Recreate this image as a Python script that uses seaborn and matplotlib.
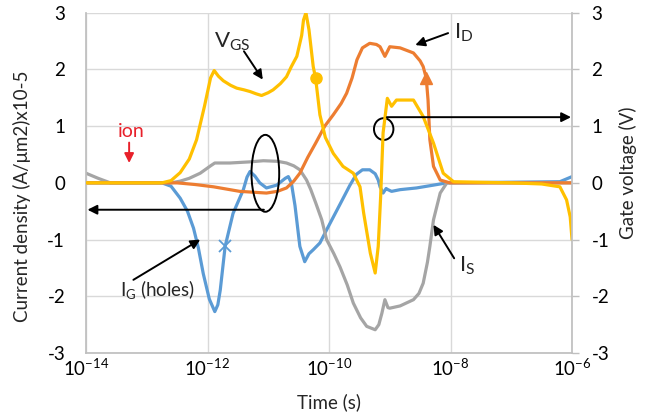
import numpy as np
import matplotlib
matplotlib.use("Agg")
import matplotlib.pyplot as plt
from matplotlib.patches import Ellipse
import seaborn as sns

# ── Data (time stored as log10 of seconds) ─────────────────────────────────────
vgs_log_t = [-14, -12.75, -12.6, -12.45, -12.3, -12.18, -12.05, -11.95, -11.89, -11.82,
             -11.74, -11.62, -11.52, -11.40, -11.30, -11.20, -11.11, -11.00, -10.92, -10.80,
             -10.70, -10.62, -10.53, -10.45, -10.42, -10.38, -10.33, -10.26, -10.22, -10.15,
             -10.06, -9.93, -9.77, -9.60, -9.49, -9.43, -9.32, -9.24, -9.19, -9.15,
             -9.11, -9.04, -8.97, -8.89, -8.61, -8.45, -8.28, -8.12, -7.95, -7.0,
             -6.5, -6.2, -6.09, -6.03, -6.0]
vgs = [0, 0, 0.04, 0.18, 0.42, 0.76, 1.35, 1.85, 1.98, 1.88,
       1.80, 1.72, 1.67, 1.64, 1.61, 1.57, 1.54, 1.59, 1.64, 1.75,
       1.87, 2.05, 2.23, 2.60, 2.87, 3.00, 2.70, 2.05, 1.84, 1.20,
       0.80, 0.52, 0.29, 0.17, -0.07, -0.53, -1.24, -1.59, -1.12, -0.24,
       0.88, 1.49, 1.35, 1.46, 1.46, 1.17, 0.70, 0.17, 0.02, 0.0,
       -0.02, -0.07, -0.30, -0.60, -1.0]

id_log_t = [-14, -12.5, -12.2, -11.90, -11.47, -11.03, -10.85, -10.70, -10.58, -10.48,
            -10.35, -10.22, -10.07, -9.93, -9.80, -9.71, -9.62, -9.54, -9.45, -9.33,
            -9.22, -9.16, -9.08, -9.00, -8.83, -8.61, -8.50, -8.45, -8.40, -8.37,
            -8.34, -8.28, -8.17, -8.01, -6.0]
i_d = [0, 0, -0.03, -0.07, -0.15, -0.18, -0.15, -0.09, 0.03, 0.17,
       0.45, 0.70, 1.00, 1.20, 1.40, 1.58, 1.85, 2.17, 2.38, 2.46,
       2.44, 2.40, 2.23, 2.40, 2.38, 2.29, 2.15, 2.05, 1.85, 1.46,
       0.76, 0.29, 0.05, 0, 0]

is_log_t = [-14.0, -13.8, -13.6, -12.6, -12.45, -12.3, -12.12, -11.95, -11.88, -11.63,
            -11.30, -11.08, -10.85, -10.70, -10.58, -10.48, -10.37, -10.30, -10.22, -10.12,
            -10.04, -9.92, -9.82, -9.70, -9.60, -9.48, -9.38, -9.24, -9.18, -9.13,
            -9.08, -9.03, -9.00, -8.83, -8.61, -8.52, -8.45, -8.38, -8.34, -8.28,
            -8.17, -8.06, -6.0]
i_s = [0.17, 0.08, 0.0, 0.0, 0.03, 0.08, 0.17, 0.30, 0.35, 0.35,
       0.37, 0.39, 0.38, 0.35, 0.30, 0.23, 0.05, -0.12, -0.35, -0.65,
       -1.00, -1.25, -1.48, -1.80, -2.12, -2.38, -2.53, -2.59, -2.50, -2.30,
       -2.06, -2.20, -2.21, -2.17, -2.06, -1.95, -1.77, -1.40, -1.12, -0.65,
       -0.18, 0.0, 0.0]

ig_log_t = [-14, -12.75, -12.60, -12.45, -12.33, -12.23, -12.15, -12.07, -11.97, -11.88,
            -11.83, -11.79, -11.71, -11.58, -11.41, -11.35, -11.30, -11.22, -11.14, -11.03,
            -10.86, -10.72, -10.67, -10.62, -10.56, -10.48, -10.40, -10.33, -10.26, -10.15,
            -10.04, -9.82, -9.66, -9.55, -9.45, -9.33, -9.24, -9.19, -9.16, -9.11,
            -9.06, -9.03, -8.97, -8.83, -8.56, -8.28, -8.06, -6.2, -6.0]
i_g = [0, 0, -0.06, -0.27, -0.50, -0.80, -1.15, -1.60, -2.05, -2.27,
       -2.15, -1.89, -1.12, -0.54, -0.12, 0.10, 0.20, 0.12, 0.0, -0.09,
       -0.04, 0.08, 0.11, 0.0, -0.40, -1.12, -1.39, -1.25, -1.18, -1.06,
       -0.83, -0.38, -0.05, 0.15, 0.23, 0.23, 0.16, 0.05, -0.07, -0.18,
       -0.10, -0.12, -0.15, -0.12, -0.09, -0.04, 0.0, 0.02, 0.11]

# single marker on each curve (index into the series above)
VGS_MARK, ID_MARK, IG_MARK = 28, 28, 12

x_ticks = [1e-14, 1e-12, 1e-10, 1e-8, 1e-6]
x_tick_labels = [r"$\mathregular{10^{-14}}$", r"$\mathregular{10^{-12}}$",
                 r"$\mathregular{10^{-10}}$", r"$\mathregular{10^{-8}}$",
                 r"$\mathregular{10^{-6}}$"]
y_ticks = [-3, -2, -1, 0, 1, 2, 3]
y_tick_labels = ["-3", "-2", "-1", "0", "1", "2", "3"]

# ── Style ──────────────────────────────────────────────────────────────────────
COLORS = {
    "vgs":  "#FFC000",
    "id":   "#ED7D31",
    "is":   "#A5A5A5",
    "ig":   "#5B9BD5",
    "grid": "#D9D9D9",
    "axis": "#BFBFBF",
}

sns.set_theme(style="white")
plt.rcParams.update({
    "font.family": ["Lato", "DejaVu Sans"],
    "mathtext.fontset": "custom",
    "mathtext.rm": "Lato",
    "mathtext.it": "Lato:italic",
    "mathtext.bf": "Lato:bold",
    "axes.unicode_minus": False,
})

fig = plt.figure(figsize=(6.53, 4.15), dpi=100)
ax = fig.add_axes([0.1317, 0.1494, 0.7443, 0.8200])
ax2 = ax.twinx()

t_vgs = 10.0 ** np.array(vgs_log_t)
t_id = 10.0 ** np.array(id_log_t)
t_is = 10.0 ** np.array(is_log_t)
t_ig = 10.0 ** np.array(ig_log_t)

LW = 2.3
sns.lineplot(x=t_ig, y=i_g, ax=ax, color=COLORS["ig"], lw=LW, sort=False, estimator=None)
sns.lineplot(x=t_is, y=i_s, ax=ax, color=COLORS["is"], lw=LW, sort=False, estimator=None)
sns.lineplot(x=t_id, y=i_d, ax=ax, color=COLORS["id"], lw=LW, sort=False, estimator=None)
sns.lineplot(x=t_vgs, y=vgs, ax=ax2, color=COLORS["vgs"], lw=LW, sort=False, estimator=None)

# markers
ax.plot(t_ig[IG_MARK], i_g[IG_MARK], marker="x", color=COLORS["ig"], ms=8, mew=1.3)
ax.plot(t_id[ID_MARK], i_d[ID_MARK], marker="^", color=COLORS["id"], ms=8)
ax2.plot(t_vgs[VGS_MARK], vgs[VGS_MARK], marker="o", color=COLORS["vgs"], ms=8)

for a in (ax, ax2):
    a.set_xscale("log")
    a.set_xlim(1e-14, 1e-6)
    a.set_ylim(-3, 3)
    a.set_yticks(y_ticks)
    a.set_yticklabels(y_tick_labels)
    for s in a.spines.values():
        s.set_visible(False)

ax.set_xticks(x_ticks)
ax.set_xticklabels(x_tick_labels)
ax.xaxis.set_minor_locator(matplotlib.ticker.NullLocator())
ax.grid(True, color=COLORS["grid"], lw=1)
ax.spines["left"].set_visible(True)
ax.spines["bottom"].set_visible(True)
ax.spines["left"].set_color(COLORS["axis"])
ax.spines["bottom"].set_color(COLORS["axis"])
ax2.spines["right"].set_visible(True)
ax2.spines["right"].set_color(COLORS["axis"])

ax.tick_params(axis="y", length=0, pad=15, labelsize=13.5, colors="#000000")
ax.tick_params(axis="x", length=0, pad=3, labelsize=13.5, colors="#000000")
ax2.tick_params(axis="y", length=5, width=1, color=COLORS["axis"], pad=9,
                labelsize=13.5, labelcolor="#000000", direction="out")

ax.set_xlabel("Time (s)", fontsize=13.5)
ax.xaxis.set_label_coords(0.5, -0.118)
ax.set_ylabel("Current density (A/\u03bcm2)x10-5", fontsize=13.5)
ax.yaxis.set_label_coords(-0.113, 0.46)
ax2.set_ylabel("Gate voltage (V)", fontsize=13.5)
ax2.yaxis.set_label_coords(1.097, 0.53)

# ── Annotations ───────────────────────────────────────────────────────────────
arrow = dict(arrowstyle="-|>", color="black", lw=1.4, mutation_scale=14,
             shrinkA=0, shrinkB=0)

ax2.text(10 ** -11.6, 2.49, r"V$_{\mathregular{GS}}$", fontsize=16, ha="center", va="center")
ax2.annotate("", xy=(10 ** -11.09, 1.82), xytext=(10 ** -11.40, 2.32), arrowprops=arrow)

ax2.text(10 ** -13.25, 0.91, "ion", fontsize=14, color="#E8202A", ha="center", va="center")
ax2.annotate("", xy=(10 ** -13.29, 0.35), xytext=(10 ** -13.29, 0.71),
             arrowprops=dict(arrow, color="#E8202A"))

ax2.text(10 ** -7.78, 2.65, r"I$_{\mathregular{D}}$", fontsize=16, ha="center", va="center")
ax2.annotate("", xy=(10 ** -8.58, 2.43), xytext=(10 ** -8.04, 2.64), arrowprops=arrow)

ax2.text(10 ** -7.72, -1.46, r"I$_{\mathregular{S}}$", fontsize=16, ha="center", va="center")
ax2.annotate("", xy=(10 ** -8.28, -0.74), xytext=(10 ** -7.94, -1.33), arrowprops=arrow)

ax2.text(10 ** -12.82, -1.88, r"I$_{\mathregular{G}}$ (holes)", fontsize=13.5,
         ha="center", va="center")
ax2.annotate("", xy=(10 ** -12.12, -1.0), xytext=(10 ** -13.22, -1.71), arrowprops=arrow)

# ellipses and long arrows (axes-fraction coordinates)
ax2.add_patch(Ellipse((0.369, 0.528), 0.057, 0.226, transform=ax2.transAxes,
                      fill=False, ec="black", lw=1.4))
ax2.add_patch(Ellipse((0.6125, 0.658), 0.040, 0.064, transform=ax2.transAxes,
                      fill=False, ec="black", lw=1.4))
ax2.annotate("", xy=(0.003, 0.421), xytext=(0.366, 0.421), xycoords="axes fraction",
             textcoords="axes fraction", arrowprops=arrow)
ax2.annotate("", xy=(0.998, 0.693), xytext=(0.619, 0.693), xycoords="axes fraction",
             textcoords="axes fraction", arrowprops=arrow)

fig.savefig("out.png", dpi=100)
